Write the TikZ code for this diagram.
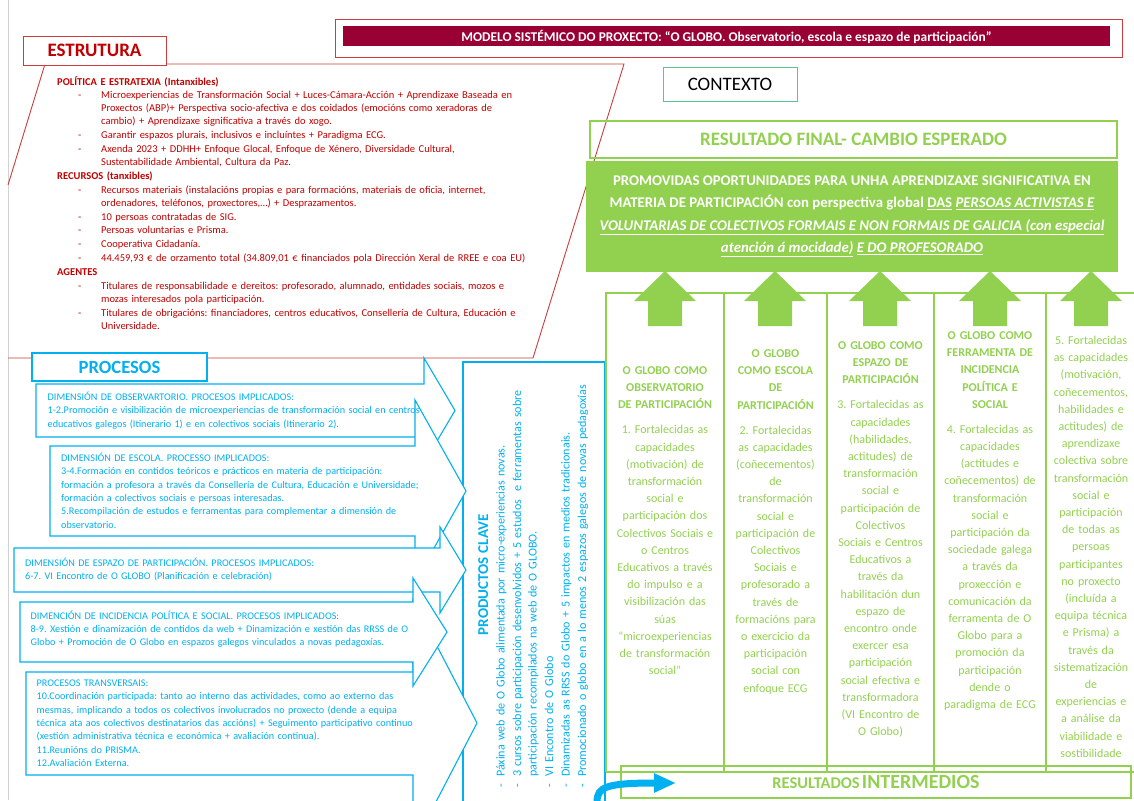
\documentclass[tikz,border=0pt]{standalone}
\usepackage{fontspec}
\setmainfont{Carlito}
\usetikzlibrary{arrows.meta}
\frenchspacing

\definecolor{estred}{RGB}{192,0,0}
\definecolor{linered}{RGB}{205,60,60}
\definecolor{bandred}{RGB}{153,0,51}
\definecolor{leaf}{RGB}{146,208,80}
\definecolor{sky}{RGB}{0,176,240}
\definecolor{mint}{RGB}{90,200,140}
\definecolor{pagegray}{RGB}{210,210,210}

% dash items with hanging text
\newcommand{\ditem}[2]{\par\vskip1pt\leftskip=#1\noindent\llap{\makebox[#2][l]{-}}}
\newcommand{\dhead}[1]{\par\vskip1pt\leftskip=0pt\noindent\textbf{#1}}

\begin{document}
\begin{tikzpicture}[x=1pt, y=-1pt,
  redbox/.style={draw=linered, line width=0.9pt, fill=white},
  procarrow/.style={draw=sky, line width=1.1pt, fill=white},
  proctext/.style={anchor=base west, inner sep=0pt, text width=420pt, align=left,
    text=sky, font=\fontsize{10.2}{13.3}\selectfont},
  coltext/.style={anchor=base, inner sep=0pt, text width=130pt, align=center,
    text=leaf, font=\fontsize{12}{17.2}\selectfont},
  greenline/.style={draw=leaf, line width=1.6pt}]
  \useasboundingbox (0,0) rectangle (1134,800);

  \draw[pagegray, line width=1pt] (8,0) -- (8,800);

  % title
  \draw[linered, line width=0.9pt] (335,19) rectangle (1122,57);
  \node[fill=bandred, minimum width=767pt, minimum height=20pt, inner sep=0pt,
    text=white, font=\bfseries\fontsize{13.4}{15}\selectfont] (title) at (726.5,36.5)
    {MODELO SISTÉMICO DO PROXECTO: “O GLOBO. Observatorio, escola e espazo de participación”};

  % estrutura
  \draw[linered, line width=0.9pt] (8,185) -- (45,64) -- (624,64) -- (533,358) -- (8,358);
  \node[redbox, minimum width=143pt, minimum height=29pt, text=estred,
    font=\bfseries\fontsize{19}{22}\selectfont] (est) at (94.5,50.5) {ESTRUTURA};
  \node[anchor=base west, inner sep=0pt, text width=490pt, align=left, text=estred,
    font=\fontsize{10.5}{12.9}\selectfont] (estbody) at (57,85) {%
    \noindent\textbf{POLÍTICA E ESTRATEXIA (Intanxibles)}
    \ditem{44pt}{23pt}Microexperiencias de Transformación Social + Luces-Cámara-Acción + Aprendizaxe Baseada en\\
    Proxectos (ABP)+ Perspectiva socio-afectiva e dos coidados (emocións como xeradoras de\\
    cambio) + Aprendizaxe significativa a través do xogo.
    \ditem{44pt}{23pt}Garantir espazos plurais, inclusivos e incluíntes + Paradigma ECG.
    \ditem{44pt}{23pt}Axenda 2023 + DDHH+ Enfoque Glocal, Enfoque de Xénero, Diversidade Cultural,\\
    Sustentabilidade Ambiental, Cultura da Paz.
    \dhead{RECURSOS (tanxibles)}
    \ditem{44pt}{23pt}Recursos materiais (instalacións propias e para formacións, materiais de oficia, internet,\\
    ordenadores, teléfonos, proxectores,…) + Desprazamentos.
    \ditem{44pt}{23pt}10 persoas contratadas de SIG.
    \ditem{44pt}{23pt}Persoas voluntarias e Prisma.
    \ditem{44pt}{23pt}Cooperativa Cidadanía.
    \ditem{44pt}{23pt}44.459,93 € de orzamento total (34.809,01 € financiados pola Dirección Xeral de RREE e coa EU)
    \dhead{AGENTES}
    \ditem{44pt}{23pt}Titulares de responsabilidade e dereitos: profesorado, alumnado, entidades sociais, mozos e\\
    mozas interesados pola participación.
    \ditem{44pt}{23pt}Titulares de obrigacións: financiadores, centros educativos, Consellería de Cultura, Educación e\\
    Universidade.\par};

  % productos clave
  \draw[sky, line width=1.1pt] (463,362) rectangle (605,805);

  % procesos
  \draw[procarrow] (36,384) -- (424,384) -- (424,358) -- (455,410.5) -- (424,463) -- (424,437) -- (36,437) -- cycle;
  \draw[procarrow] (50,446) -- (415,446) -- (415,400) -- (466,491) -- (415,582) -- (415,536) -- (50,536) -- cycle;
  \draw[procarrow] (14,548) -- (440,548) -- (440,527) -- (466,570) -- (440,613) -- (440,592) -- (14,592) -- cycle;
  \draw[procarrow] (26,672) -- (413,672) -- (413,600) -- (477,723) -- (413,846) -- (413,775) -- (26,775) -- cycle;
  \draw[procarrow] (20,602) -- (413,602) -- (413,578) -- (447,632) -- (413,686) -- (413,662) -- (20,662) -- cycle;
  \node[draw=sky, line width=1.1pt, fill=white, minimum width=175pt, minimum height=28pt,
    text=sky, font=\bfseries\fontsize{18.6}{21}\selectfont] (proc) at (119.5,367) {PROCESOS};

  \node[proctext] (obs) at (47.5,400.5) {DIMENSIÓN DE OBSERVARTORIO. PROCESOS IMPLICADOS:\\
    1-2.Promoción e visibilización de microexperiencias de transformación social en centros\\
    educativos galegos (Itinerario 1) e en colectivos sociais (Itinerario 2).};
  \node[proctext] (escola) at (61,461.5) {DIMENSIÓN DE ESCOLA. PROCESSO IMPLICADOS:\\
    3-4.Formación en contidos teóricos e prácticos en materia de participación:\\
    formación a profesora a través da Consellería de Cultura, Educación e Universidade;\\
    formación a colectivos sociais e persoas interesadas.\\
    5.Recompilación de estudos e ferramentas para complementar a dimensión de\\
    observatorio.};
  \node[proctext] (espazo) at (25,566.5) {DIMENSIÓN DE ESPAZO DE PARTICIPACIÓN. PROCESOS IMPLICADOS:\\
    6-7. VI Encontro de O GLOBO (Planificación e celebración)};
  \node[proctext] (incid) at (30.5,619) {DIMENCIÓN DE INCIDENCIA POLÍTICA E SOCIAL. PROCESOS IMPLICADOS:\\
    8-9. Xestión e dinamización de contidos da web + Dinamización e xestión das RRSS de O\\
    Globo + Promoción de O Globo en espazos galegos vinculados a novas pedagoxías.};
  \node[proctext] (transv) at (36.5,686.5) {PROCESOS TRANSVERSAIS:\\
    10.Coordinación participada: tanto ao interno das actividades, como ao externo das\\
    mesmas, implicando a todos os colectivos involucrados no proxecto (dende a equipa\\
    técnica ata aos colectivos destinatarios das accións) + Seguimento participativo continuo\\
    (xestión administrativa técnica e económica + avaliación continua).\\
    11.Reunións do PRISMA.\\
    12.Avaliación Externa.};

  \node[rotate=90, anchor=base west, inner sep=0pt, text width=430pt, align=left, text=sky,
    font=\fontsize{12.1}{15.5}\selectfont] (prod) at (488,790) {%
    {\centering\bfseries\fontsize{15}{15.5}\selectfont PRODUCTOS CLAVE\par}
    \ditem{13pt}{11pt}Páxina web de O Globo alimentada por micro-experiencias novas.
    \ditem{13pt}{11pt}3 cursos sobre participación desenvolvidos + 5 estudos \ e ferramentas sobre\\
    participación recompilados na web de O GLOBO.
    \ditem{13pt}{11pt}VI Encontro de O Globo
    \ditem{13pt}{11pt}Dinamizadas as RRSS do Globo + 5 impactos en medios tradicionais.
    \ditem{13pt}{11pt}Promocionado o globo en a lo menos 2 espazos galegos de novas pedagoxías\par};

  % contexto e resultados
  \node[draw=mint, line width=1pt, minimum width=134pt, minimum height=34pt,
    font=\fontsize{19}{22}\selectfont] (contexto) at (730,84) {CONTEXTO};
  \node[draw=leaf, line width=1.1pt, minimum width=527pt, minimum height=37pt, text=leaf,
    font=\bfseries\fontsize{19}{22}\selectfont] (final) at (853.5,139.5) {RESULTADO FINAL- CAMBIO ESPERADO};
  \node[fill=leaf, minimum width=532pt, minimum height=111pt, inner sep=0pt, align=center,
    text=white, font=\bfseries\fontsize{14.8}{22.5}\selectfont] (cambio) at (852,216.5) {%
    PROMOVIDAS OPORTUNIDADES PARA UNHA APRENDIZAXE SIGNIFICATIVA EN\\
    MATERIA DE PARTICIPACIÓN con perspectiva global \underline{DAS} \underline{\itshape PERSOAS ACTIVISTAS E}\\
    \underline{\itshape VOLUNTARIAS DE COLECTIVOS FORMAIS E NON FORMAIS DE GALICIA (con especial}\\
    \underline{\itshape atención á mocidade)} \underline{\itshape E DO PROFESORADO}};

  % resultados intermedios
  \draw[greenline] (606,772) -- (606,293) -- (1140,293);
  \draw[greenline] (606,772) -- (1140,772);
  \foreach \vx in {724,827,934,1046}
    \draw[greenline] (\vx,293) -- (\vx,772);
  \foreach \cx in {665,775,880,990,1091}
    \fill[leaf] (\cx-17,326) -- (\cx-17,301) -- (\cx-31,301) -- (\cx,271)
      -- (\cx+31,301) -- (\cx+17,301) -- (\cx+17,326) -- cycle;

  \node[coltext] (col1) at (665,374.5) {\bfseries O GLOBO COMO\\ OBSERVATORIO\\ DE PARTICIPACIÓN\\[7.8pt]
    \mdseries 1. Fortalecidas as\\ capacidades\\ (motivación) de\\ transformación\\ social e\\
    participación dos\\ Colectivos Sociais e\\ o Centros\\ Educativos a través\\ do impulso e a\\
    visibilización das\\ súas\\ “microexperiencias\\ de transformación\\ social”};
  \node[coltext] (col2) at (775.5,357.5) {\bfseries O GLOBO\\ COMO ESCOLA\\ DE\\ PARTICIPACIÓN\\[7.8pt]
    \mdseries 2. Fortalecidas\\ as capacidades\\ (coñecementos)\\ de\\ transformación\\ social e\\
    participación de\\ Colectivos\\ Sociais e\\ profesorado a\\ través de\\ formacións para\\
    o exercicio da\\ participación\\ social con\\ enfoque ECG};
  \node[coltext] (col3) at (880.5,349.5) {\bfseries O GLOBO COMO\\ ESPAZO DE\\ PARTICIPACIÓN\\[7.8pt]
    \mdseries 3. Fortalecidas as\\ capacidades\\ (habilidades,\\ actitudes) de\\ transformación\\ social e\\
    participación de\\ Colectivos\\ Sociais e Centros\\ Educativos a\\ través da\\ habilitación dun\\
    espazo de\\ encontro onde\\ exercer esa\\ participación\\ social efectiva e\\ transformadora\\
    (VI Encontro de\\ O Globo)};
  \node[coltext] (col4) at (990,339.5) {\bfseries O GLOBO COMO\\ FERRAMENTA DE\\ INCIDENCIA\\ POLÍTICA E\\ SOCIAL\\[7.8pt]
    \mdseries 4. Fortalecidas as\\ capacidades\\ (actitudes e\\ coñecementos) de\\ transformación\\ social e\\
    participación da\\ sociedade galega\\ a través da\\ proxección e\\ comunicación da\\ ferramenta de O\\
    Globo para a\\ promoción da\\ participación\\ dende o\\ paradigma de ECG};
  \node[coltext] (col5) at (1091,344.5) {5. Fortalecidas\\ as capacidades\\ (motivación,\\ coñecementos,\\
    habilidades e\\ actitudes) de\\ aprendizaxe\\ colectiva sobre\\ transformación\\ social e\\ participación\\
    de todas as\\ persoas\\ participantes\\ no proxecto\\ (incluída a\\ equipa técnica\\ e Prisma) a\\
    través da\\ sistematización\\ de\\ experiencias e\\ a análise da\\ viabilidade e\\ sostibilidade};

  \node[draw=leaf, line width=1.2pt, minimum width=510pt, minimum height=32pt, text=leaf,
    font=\bfseries] (midres) at (876,782)
    {{\fontsize{16.4}{18}\selectfont RESULTADOS} {\fontsize{20}{22}\selectfont INTERMEDIOS}};

  \draw[sky, line width=7pt, -{Triangle[length=22pt,width=18pt]}]
    (597,802) .. controls (597,787) and (606,783) .. (676,783);
\end{tikzpicture}
\end{document}
